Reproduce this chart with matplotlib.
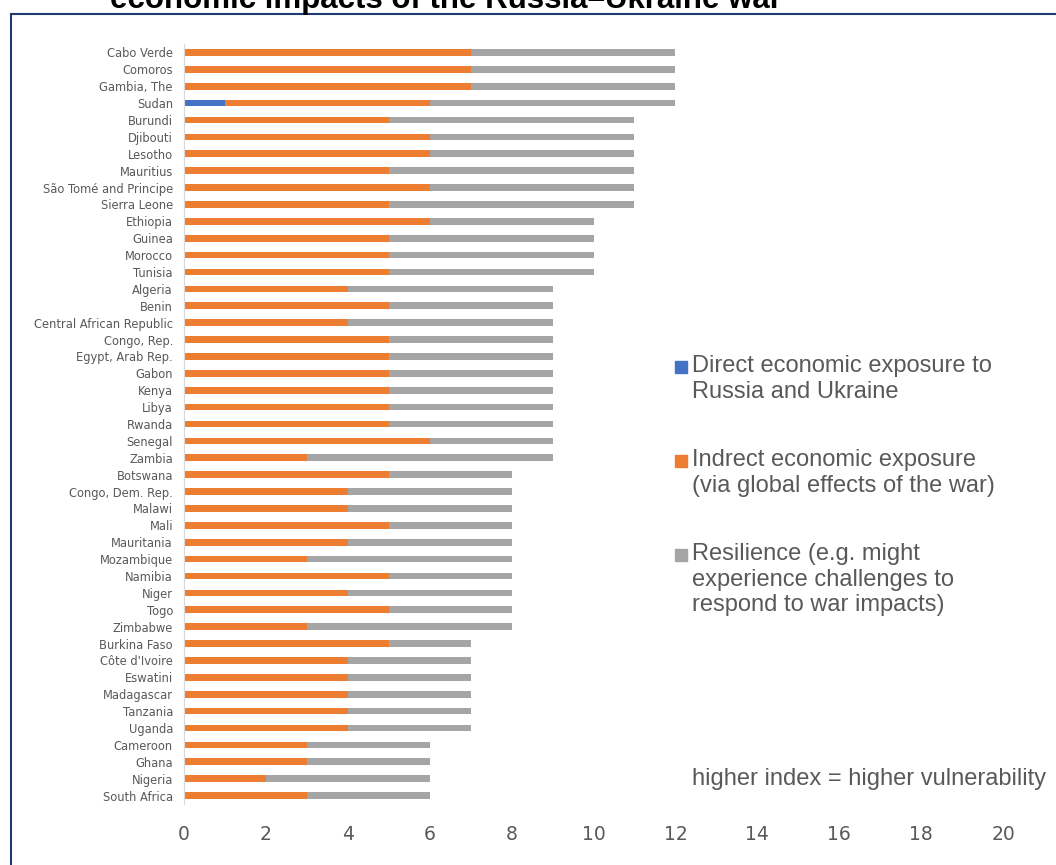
import matplotlib.pyplot as plt
from matplotlib.patches import Rectangle

countries = ['Cabo Verde', 'Comoros', 'Gambia, The', 'Sudan', 'Burundi', 'Djibouti', 'Lesotho',
             'Mauritius', 'São Tomé and Principe', 'Sierra Leone', 'Ethiopia', 'Guinea', 'Morocco',
             'Tunisia', 'Algeria', 'Benin', 'Central African Republic', 'Congo, Rep.',
             'Egypt, Arab Rep.', 'Gabon', 'Kenya', 'Libya', 'Rwanda', 'Senegal', 'Zambia',
             'Botswana', 'Congo, Dem. Rep.', 'Malawi', 'Mali', 'Mauritania', 'Mozambique',
             'Namibia', 'Niger', 'Togo', 'Zimbabwe', 'Burkina Faso', "Côte d'Ivoire", 'Eswatini',
             'Madagascar', 'Tanzania', 'Uganda', 'Cameroon', 'Ghana', 'Nigeria', 'South Africa']
direct = [0, 0, 0, 1, 0, 0, 0, 0, 0, 0, 0, 0, 0, 0, 0, 0, 0, 0, 0, 0, 0, 0, 0,
          0, 0, 0, 0, 0, 0, 0, 0, 0, 0, 0, 0, 0, 0, 0, 0, 0, 0, 0, 0, 0, 0]
indirect = [7, 7, 7, 5, 5, 6, 6, 5, 6, 5, 6, 5, 5, 5, 4, 5, 4, 5, 5, 5, 5, 5, 5,
            6, 3, 5, 4, 4, 5, 4, 3, 5, 4, 5, 3, 5, 4, 4, 4, 4, 4, 3, 3, 2, 3]
resilience = [5, 5, 5, 6, 6, 5, 5, 6, 5, 6, 4, 5, 5, 5, 5, 4, 5, 4, 4, 4, 4, 4, 4,
              3, 6, 3, 4, 4, 3, 4, 5, 3, 4, 3, 5, 2, 3, 3, 3, 3, 3, 3, 3, 4, 3]
series_labels = ['Direct economic exposure to\nRussia and Ukraine',
                 'Indrect economic exposure\n(via global effects of the war)',
                 'Resilience (e.g. might\nexperience challenges to\nrespond to war impacts)']
title = 'economic impacts of the Russia\u2013Ukraine war'
note = 'higher index = higher vulnerability'

W, H = 1056, 865
grey_txt = '#595959'
narrow = ['DejaVu Sans Condensed', 'Liberation Sans Narrow', 'DejaVu Sans']

fig = plt.figure(figsize=(W / 100, H / 100), dpi=100)
ax = fig.add_axes([184 / W, 1 - 804 / H, 22 * 40.95 / W, 760 / H])

def px(x, y):
    return (x / W, 1 - y / H)

ypos = list(range(len(countries)))
left2 = [a + b for a, b in zip(direct, indirect)]
b1 = ax.barh(ypos, direct, height=0.4, color='#4472C4')
b2 = ax.barh(ypos, indirect, left=direct, height=0.4, color='#ED7D31')
b3 = ax.barh(ypos, resilience, left=left2, height=0.4, color='#A5A5A5')

ax.set_ylim(len(countries) - 0.5, -0.5)
ax.set_xlim(0, 22)
ax.set_yticks(ypos)
ax.set_yticklabels(countries, family=narrow, fontsize=8.3, color=grey_txt)
ax.set_xticks(range(0, 21, 2))
ax.set_xticklabels([str(v) for v in range(0, 21, 2)], family=narrow, fontsize=13.5, color=grey_txt)
ax.tick_params(axis='x', length=0, pad=15)
ax.tick_params(axis='y', length=0, pad=8)
for s in ['top', 'right', 'bottom']:
    ax.spines[s].set_visible(False)
ax.spines['left'].set_color('#D9D9D9')

# legend drawn by hand so the square sits on the first line
leg_y = [367, 461, 555]
for cont, lab, y in zip([b1, b2, b3], series_labels, leg_y):
    fig.patches.append(Rectangle(px(675, y + 6), 12 / W, 12 / H, transform=fig.transFigure,
                                 color=cont[0].get_facecolor(), figure=fig))
    fig.text(*px(692, y - 12), lab, ha='left', va='top', fontsize=17,
             family='Liberation Sans', color=grey_txt, linespacing=1.22)

fig.text(*px(692, 779), note, ha='left', va='center', fontsize=17,
         family='Liberation Sans', color=grey_txt)

fig.text(*px(110, 8), title, ha='left', va='baseline', fontsize=22.5,
         family='Liberation Sans', weight='bold', color='black')

# chart border
fig.patches.append(Rectangle(px(11, 900), 1100 / W, 886 / H, transform=fig.transFigure,
                             fill=False, edgecolor='#1F3A73', linewidth=1.5, figure=fig))

fig.savefig('out.png', dpi=100)
